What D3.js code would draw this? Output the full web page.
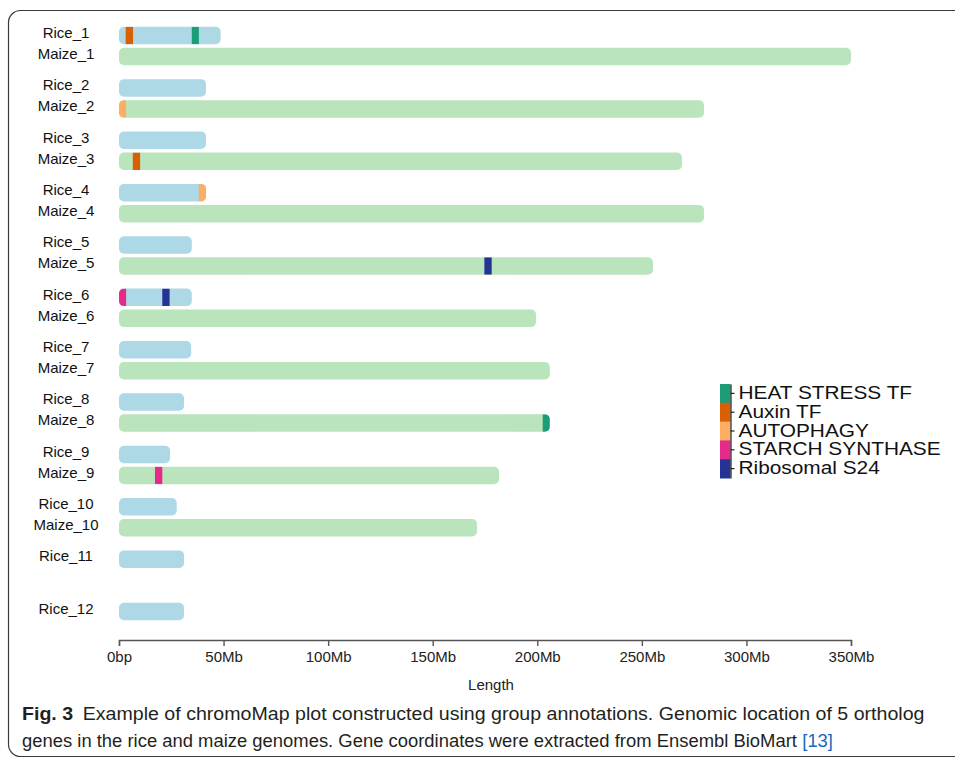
<!DOCTYPE html>
<html>
<head>
<meta charset="utf-8">
<script src="https://cdn.jsdelivr.net/npm/d3@7/dist/d3.min.js"></script>
<style>
  html, body { margin: 0; padding: 0; background: #fff; }
  svg { display: block; }
</style>
</head>
<body>
<svg id="chart" width="955" height="759"></svg>
<script>
// Chromosome lengths (Mb), one pair of rows per chromosome number
const chromNumbers = [1, 2, 3, 4, 5, 6, 7, 8, 9, 10, 11, 12];
const riceLengths  = [48.6, 41.6, 41.6, 41.6, 34.8, 34.8, 34.5, 31.1, 24.4, 27.6, 31.1, 31.1];
const maizeLengths = [350, 279.7, 269.2, 279.7, 255.3, 199.4, 206, 206, 181.7, 171.2, null, null];

// Annotation groups and their colours
const groups = ["HEAT STRESS TF", "Auxin TF", "AUTOPHAGY", "STARCH SYNTHASE", "Ribosomal S24"];
const groupColors = ["#1b9e77", "#d95f02", "#fdae61", "#e7298a", "#253494"];

// Gene annotations: chromosome, group, start (Mb), end (Mb)
const annChrom = ["Rice_1", "Rice_1", "Maize_2", "Maize_3", "Rice_4", "Maize_5", "Rice_6", "Rice_6", "Maize_8", "Maize_9"];
const annGroup = ["Auxin TF", "HEAT STRESS TF", "AUTOPHAGY", "Auxin TF", "AUTOPHAGY", "Ribosomal S24", "STARCH SYNTHASE", "Ribosomal S24", "HEAT STRESS TF", "STARCH SYNTHASE"];
const annStart = [3.2, 34.8, 0, 6.6, 38.2, 174.7, 0, 20.7, 202.6, 17.2];
const annEnd   = [6.7, 38.2, 3.4, 10.1, 41.6, 178.2, 3.4, 24.2, 206, 20.7];

// Axis ticks (Mb) and labels
const tickValues = [0, 50, 100, 150, 200, 250, 300, 350];
const tickLabels = ["0bp", "50Mb", "100Mb", "150Mb", "200Mb", "250Mb", "300Mb", "350Mb"];

const svg = d3.select("#chart");
const sans = "Liberation Sans, Arial, sans-serif";

// Panel frame (open on the right edge)
svg.append("rect")
  .attr("x", 8.5).attr("y", 10.5)
  .attr("width", 980).attr("height", 746)
  .attr("rx", 12).attr("ry", 12)
  .attr("fill", "none").attr("stroke", "#3a3a3a").attr("stroke-width", 1.2);

const x = d3.scaleLinear().domain([0, 350]).range([119, 851]);
const y = d3.scalePoint().domain(chromNumbers).range([26.8, 26.8 + 52.36 * 11]);
const barH = 17.5, maizeOffset = 21, radius = 5;

const color = d3.scaleOrdinal().domain(groups).range(groupColors);

// Build chromosome records
const chroms = [];
chromNumbers.forEach((n, i) => {
  chroms.push({ name: "Rice_" + n, len: riceLengths[i], top: y(n), fill: "#add8e6" });
  if (maizeLengths[i] != null)
    chroms.push({ name: "Maize_" + n, len: maizeLengths[i], top: y(n) + maizeOffset, fill: "#bae4bc" });
});
const byName = new Map(chroms.map(c => [c.name, c]));

const defs = svg.append("defs");
chroms.forEach((c, i) => {
  defs.append("clipPath").attr("id", "clip" + i)
    .append("rect")
    .attr("x", x(0)).attr("y", c.top)
    .attr("width", x(c.len) - x(0)).attr("height", barH)
    .attr("rx", radius).attr("ry", radius);
  c.clip = "clip" + i;
});

const chromG = svg.append("g");
chromG.selectAll("rect.chrom")
  .data(chroms)
  .join("rect")
  .attr("class", "chrom")
  .attr("x", x(0)).attr("y", d => d.top)
  .attr("width", d => x(d.len) - x(0)).attr("height", barH)
  .attr("rx", radius).attr("ry", radius)
  .attr("fill", d => d.fill);

// Chromosome labels
chromG.selectAll("text.lab")
  .data(chroms)
  .join("text")
  .attr("class", "lab")
  .attr("x", 66)
  .attr("y", d => d.top + barH / 2 - 3)
  .attr("dy", "0.35em")
  .attr("text-anchor", "middle")
  .attr("font-family", sans)
  .attr("font-size", 15)
  .attr("fill", "#111")
  .text(d => d.name);

// Annotation markers, clipped to the rounded chromosome shape
const anns = annChrom.map((c, i) => ({ chrom: byName.get(c), group: annGroup[i], start: annStart[i], end: annEnd[i] }));
svg.append("g").selectAll("rect")
  .data(anns)
  .join("rect")
  .attr("clip-path", d => "url(#" + d.chrom.clip + ")")
  .attr("x", d => x(d.start)).attr("y", d => d.chrom.top)
  .attr("width", d => x(d.end) - x(d.start)).attr("height", barH)
  .attr("fill", d => color(d.group));

// Bottom axis
const axis = d3.axisBottom(x)
  .tickValues(tickValues)
  .tickFormat((d, i) => tickLabels[i])
  .tickSizeOuter(6).tickSizeInner(6).tickPadding(5);
const axG = svg.append("g").attr("transform", "translate(0,640)").call(axis);
axG.select(".domain").attr("stroke", "#555").attr("stroke-width", 1.4);
axG.selectAll(".tick line").attr("stroke", "#555").attr("stroke-width", 1.4);
axG.selectAll(".tick text")
  .attr("font-family", sans)
  .attr("font-size", 15).attr("fill", "#222");

svg.append("text")
  .attr("x", 491).attr("y", 690)
  .attr("text-anchor", "middle")
  .attr("font-family", sans)
  .attr("font-size", 15).attr("fill", "#222")
  .text("Length");

// Legend: colour strip with a right-hand axis
const ly = d3.scaleBand().domain(groups).range([384, 478]);
const legG = svg.append("g");
legG.selectAll("rect")
  .data(groups)
  .join("rect")
  .attr("x", 720).attr("y", d => ly(d))
  .attr("width", 10.5).attr("height", ly.bandwidth() + 0.5)
  .attr("fill", d => color(d));
const lAxis = d3.axisRight(ly).tickSizeInner(4).tickSizeOuter(0).tickPadding(4);
const lAxG = legG.append("g").attr("transform", "translate(730.5,0)").call(lAxis);
lAxG.select(".domain").attr("stroke", "#222").attr("stroke-width", 1.2);
lAxG.selectAll(".tick line").attr("stroke", "#222").attr("stroke-width", 1.2);
lAxG.selectAll(".tick text")
  .attr("font-family", sans)
  .attr("font-size", 17.5).attr("fill", "#111")
  .each(function () {
    // the legend lettering is set slightly wide
    const w = this.getComputedTextLength();
    d3.select(this).attr("textLength", w * 1.19).attr("lengthAdjust", "spacingAndGlyphs");
  });

// Caption, set in a condensed face by squeezing each line horizontally
const capFont = "'Liberation Sans Narrow', 'Arial Narrow', 'Liberation Sans', sans-serif";
const capSize = 18.5;

function captionLine(yPos, parts, targetWidth) {
  const g = svg.append("g");
  let cx = 0;
  parts.forEach(p => {
    const t = g.append("text")
      .attr("x", cx).attr("y", 0)
      .attr("font-family", capFont).attr("font-size", capSize)
      .attr("font-weight", p.bold ? "bold" : "normal")
      .attr("fill", p.color || "#231f20")
      .text(p.text);
    cx += t.node().getComputedTextLength() + (p.gap || 0);
  });
  const s = targetWidth / cx;
  g.attr("transform", `translate(22,${yPos}) scale(${s},1)`);
}

captionLine(720, [
  { text: "Fig. 3", bold: true, gap: 9 },
  { text: "Example of chromoMap plot constructed using group annotations. Genomic location of 5 ortholog" }
], 903);

captionLine(747, [
  { text: "genes in the rice and maize genomes. Gene coordinates were extracted from Ensembl BioMart", gap: 5 },
  { text: "[13]", color: "#1a66c2" }
], 811);
</script>
</body>
</html>
